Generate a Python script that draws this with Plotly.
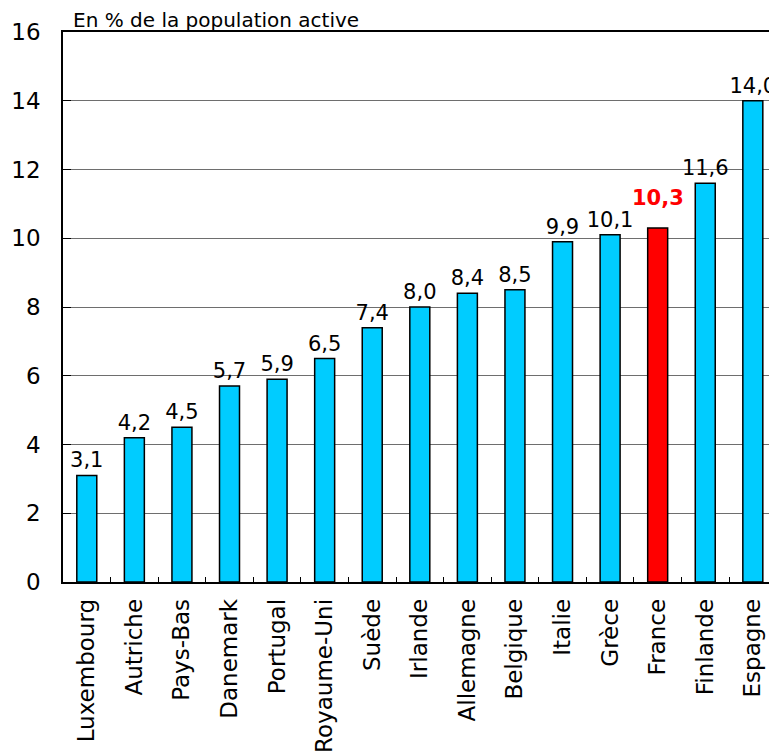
import plotly.graph_objects as go

countries = ["Luxembourg", "Autriche", "Pays-Bas", "Danemark", "Portugal",
             "Royaume-Uni", "Suède", "Irlande", "Allemagne", "Belgique",
             "Italie", "Grèce", "France", "Finlande", "Espagne"]
values = [3.1, 4.2, 4.5, 5.7, 5.9, 6.5, 7.4, 8.0, 8.4, 8.5, 9.9, 10.1, 10.3, 11.6, 14.0]
highlight = "France"
y_ticks = [0, 2, 4, 6, 8, 10, 12, 14, 16]
title_text = "En % de la population active"

FONT = "DejaVu Sans"
CYAN = "#00CCFF"
RED = "#FF0000"


def fmt(v):
    return f"{v:.1f}".replace(".", ",")


colors = [RED if c == highlight else CYAN for c in countries]
texts = ["" if c == highlight else fmt(v) for c, v in zip(countries, values)]

fig = go.Figure(go.Bar(
    x=countries, y=values,
    marker=dict(color=colors, line=dict(color="black", width=1.5)),
    text=texts, textposition="outside", constraintext="none",
    textfont=dict(family=FONT, size=21, color="black"),
    cliponaxis=False,
))

hv = values[countries.index(highlight)]
fig.add_annotation(
    x=highlight, y=hv, text=f"<b>{fmt(hv)}</b>", showarrow=False,
    yanchor="bottom", yshift=16,
    font=dict(family=FONT, size=21, color=RED),
)

fig.update_layout(
    width=769, height=752,
    margin=dict(l=63, r=0, t=32, b=170, autoexpand=False),
    paper_bgcolor="white", plot_bgcolor="white",
    bargap=0.58, showlegend=False,
    font=dict(family=FONT, color="black"),
)
fig.update_xaxes(
    range=[-0.5, 14.34], showline=True, linecolor="black", linewidth=1.5,
    mirror=True, ticks="inside", ticklen=5, tickcolor="black",
    tickson="boundaries", tickangle=-90, showgrid=False, automargin=False,
    tickfont=dict(family=FONT, size=23, color="black"),
    ticklabelstandoff=6,
)
fig.update_yaxes(
    range=[0, 16], tickvals=y_ticks, showline=True, linecolor="black",
    linewidth=1.5, ticks="inside", ticklen=8, tickcolor="black",
    showgrid=True, gridcolor="#6e6e6e", gridwidth=1, zeroline=False,
    automargin=False,
    tickfont=dict(family=FONT, size=23, color="black"),
    ticklabelstandoff=16,
)
fig.add_annotation(
    text=title_text, xref="paper", yref="paper", x=8 / 706, y=1,
    xanchor="left", yanchor="bottom", showarrow=False, yshift=-2,
    font=dict(family=FONT, size=20, color="black"),
)
fig.write_html(
    "out.html",
    config={"displayModeBar": False},
    post_script="document.body.style.margin='0';document.body.style.overflow='hidden';",
)
